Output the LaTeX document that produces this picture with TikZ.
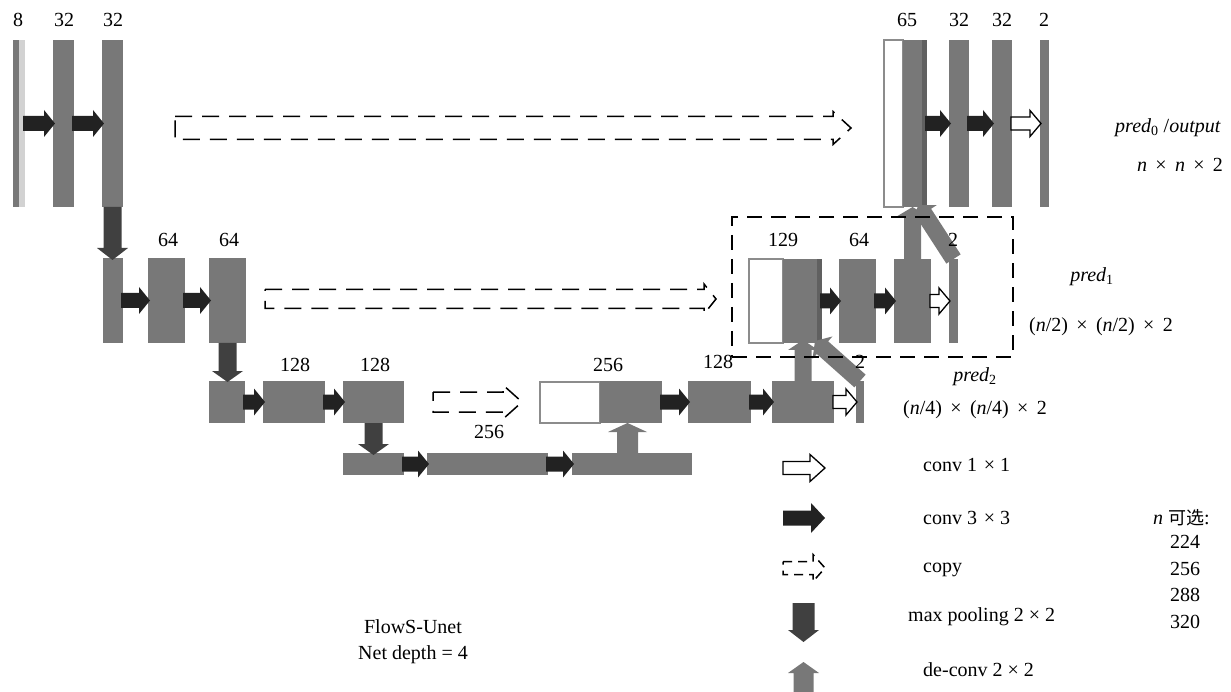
\documentclass[tikz,border=0pt]{standalone}
\usepackage{fontspec}
\setmainfont{Liberation Serif}
\newfontfamily\cjkf{Noto Sans CJK SC}
\usetikzlibrary{calc}
\definecolor{barg}{HTML}{787878}
\definecolor{lightg}{HTML}{D2D2D2}
\definecolor{stripg}{HTML}{606060}
\definecolor{convk}{HTML}{222222}
\definecolor{poolk}{HTML}{404040}
\definecolor{edgeg}{HTML}{8C8C8C}
\tikzset{
  blk/.style={rectangle, inner sep=0pt, outer sep=0pt, draw=none},
  grayblk/.style={fill=barg},
  whiteblk/.style={fill=white, draw=edgeg, line width=1.2pt},
  lightblk/.style={fill=lightg},
  stripblk/.style={fill=stripg},
  conv3/.style={fill=convk},
  conv1/.style={fill=white, draw=black, line width=1.3pt},
  copyar/.style={draw=black, line width=1.5pt, dash pattern=on 17pt off 10pt},
  copysm/.style={draw=black, line width=1.5pt, dash pattern=on 9pt off 6pt},
  pool/.style={fill=poolk},
  deconv/.style={fill=barg},
  lbl/.style={inner sep=0pt, font=\fontsize{20}{22}\selectfont},
  lgd/.style={inner sep=0pt, anchor=west, font=\fontsize{20}{22}\selectfont},
}
% block: [style]{x1}{y1}{x2}{y2}{name}
\newcommand{\UBlk}[6][grayblk]{\node[blk, #1, minimum width={(#4-#2)*1pt}, minimum height={(#5-#3)*1pt}] (#6) at ({(#2+#4)/2},{(#3+#5)/2}) {};}
% block arrow: {style}{from}{to}{body half}{head half}{head length}
\newcommand{\BArr}[6]{%
  \path[#1] let \p1=#2, \p2=#3,
    \n1={atan2((\y2)-(\y1),(\x2)-(\x1))},
    \n2={veclen((\x2)-(\x1),(\y2)-(\y1))-#6} in
    ($(\p1)+(\n1+90:#4pt)$) -- ($(\p1)+(\n1:\n2)+(\n1+90:#4pt)$)
    -- ($(\p1)+(\n1:\n2)+(\n1+90:#5pt)$) -- (\p2)
    -- ($(\p1)+(\n1:\n2)+(\n1-90:#5pt)$) -- ($(\p1)+(\n1:\n2)+(\n1-90:#4pt)$)
    -- ($(\p1)+(\n1-90:#4pt)$) -- cycle;}
\newcommand{\ConvT}[2]{\BArr{conv3}{([xshift=-2pt]#1.east)}{([xshift=2pt]#2.west)}{7.5}{13.5}{11}}
\newcommand{\ConvO}[2]{\BArr{conv1}{([xshift=-1pt]#1.east)}{([xshift=1pt]#2.west)}{6.5}{13}{11}}
\begin{document}
\begin{tikzpicture}[x=1pt,y=-1pt]
\useasboundingbox (0,0) rectangle (1231,692);
% ---------- encoder ----------
\UBlk{13}{40}{19}{207}{in0d}
\UBlk[lightblk]{19}{40}{25}{207}{in0}
\UBlk{53}{40}{74}{207}{e0a}
\UBlk{102}{40}{123}{207}{e0b}
\UBlk{103}{258}{123}{343}{e1in}
\UBlk{148}{258}{185}{343}{e1a}
\UBlk{209}{258}{246}{343}{e1b}
\UBlk{209}{381}{245}{423}{e2in}
\UBlk{263}{381}{325}{423}{e2a}
\UBlk{343}{381}{404}{423}{e2b}
\UBlk{343}{453}{404}{475}{e3in}
\UBlk{427}{453}{548}{475}{e3a}
\UBlk{572}{453}{692}{475}{e3b}
% ---------- decoder ----------
\UBlk[whiteblk]{540}{382}{600}{423}{d2w}
\UBlk{600}{381}{662}{423}{d2c}
\UBlk{688}{381}{751}{423}{d2a}
\UBlk{772}{381}{834}{423}{d2b}
\UBlk{856}{381}{864}{423}{d2o}
\UBlk[whiteblk]{749}{259}{783}{343}{d1w}
\UBlk{783}{259}{817}{343}{d1c}
\UBlk[stripblk]{817}{259}{822}{343}{d1s}
\UBlk{839}{259}{876}{343}{d1a}
\UBlk{894}{259}{931}{343}{d1b}
\UBlk{949}{259}{958}{343}{d1o}
\UBlk[whiteblk]{884}{40}{903}{207}{d0w}
\UBlk{903}{40}{922}{207}{d0c}
\UBlk[stripblk]{922}{40}{927}{207}{d0s}
\UBlk{949}{40}{969}{207}{d0a}
\UBlk{992}{40}{1012}{207}{d0b}
\UBlk{1040}{40}{1049}{207}{d0o}
% ---------- conv 3x3 ----------
\ConvT{in0}{e0a}
\ConvT{e0a}{e0b}
\ConvT{e1in}{e1a}
\ConvT{e1a}{e1b}
\ConvT{e2in}{e2a}
\ConvT{e2a}{e2b}
\ConvT{e3in}{e3a}
\ConvT{e3a}{e3b}
\ConvT{d2c}{d2a}
\ConvT{d2a}{d2b}
\ConvT{d1s}{d1a}
\ConvT{d1a}{d1b}
\ConvT{d0s}{d0a}
\ConvT{d0a}{d0b}
% ---------- conv 1x1 ----------
\ConvO{d2b}{d2o}
\ConvO{d1b}{d1o}
\ConvO{d0b}{d0o}
% ---------- max pooling ----------
\BArr{pool}{(e0b.south)}{($(e0b.south |- e1in.north)+(0,2)$)}{9}{15.5}{12}
\BArr{pool}{(e1b.south)}{($(e1b.south |- e2in.north)+(0,1)$)}{9}{15.5}{11}
\BArr{pool}{(e2b.south)}{($(e2b.south |- e3in.north)+(0,2)$)}{9}{15.5}{11}
% ---------- de-conv ----------
\BArr{deconv}{($(e3b.north)+(-4.5,0)$)}{($(e3b.north |- d2c.south)+(-4.5,0)$)}{10.5}{19.5}{9}
\BArr{deconv}{(d2b.north)}{($(d2b.north |- d1c.south)+(0,-3)$)}{8.5}{15}{10}
\BArr{deconv}{(d1b.north)}{(d1b.north |- d0c.south)}{8.5}{15}{9}
\BArr{deconv}{(d2o.north)}{($(d2b.north |- d1c.south)+(12,-2)$)}{8.5}{15}{10}
\BArr{deconv}{(d1o.north)}{($(d1b.north |- d0c.south)+(6,-2)$)}{8.5}{15}{10}
% ---------- copy ----------
\coordinate (cp0s) at (175,128); \coordinate (cp0e) at (851,128);
\coordinate (cp1s) at (265,299); \coordinate (cp1e) at (716,299);
\coordinate (cp2s) at (433,402); \coordinate (cp2e) at (522,402);
\BArr{copyar}{(cp0s)}{(cp0e)}{11.5}{16.5}{18}
\BArr{copyar}{(cp1s)}{(cp1e)}{9.5}{15}{12}
\BArr{copyar}{(cp2s)}{(cp2e)}{10}{17}{19}
% ---------- pred1 box ----------
\node[draw=black, line width=1.5pt, dash pattern=on 15pt off 9pt, inner sep=0pt,
      minimum width=281pt, minimum height=140pt] (predbox) at (872.5,287) {};
% ---------- channel labels ----------
\node[lbl] (t8) at (18,20) {8};
\node[lbl] (t32a) at (64,20) {32};
\node[lbl] (t32b) at (113,20) {32};
\node[lbl] (t64a) at (168,240) {64};
\node[lbl] (t64b) at (229,240) {64};
\node[lbl] (t128a) at (295,365) {128};
\node[lbl] (t128b) at (375,365) {128};
\node[lbl] (t256a) at (489,432) {256};
\node[lbl] (t256b) at (608,365) {256};
\node[lbl] (t128c) at (718,362) {128};
\node[lbl] (t2c) at (860,362) {2};
\node[lbl] (t129) at (783,240) {129};
\node[lbl] (t64c) at (859,240) {64};
\node[lbl] (t2b) at (953,240) {2};
\node[lbl] (t65) at (907,20) {65};
\node[lbl] (t32c) at (959,20) {32};
\node[lbl] (t32d) at (1002,20) {32};
\node[lbl] (t2a) at (1044,20) {2};
% ---------- outputs ----------
\node[lbl] (p0) at (1168,128) {\textit{pred}\textsubscript{0} /\textit{output}};
\node[lbl] (p0s) at (1180,165) {\textit{n} \,×\, \textit{n} \,×\, 2};
\node[lbl] (p1) at (1092,277) {\textit{pred}\textsubscript{1}};
\node[lbl] (p1s) at (1101,327) {(\textit{n}/2) \,×\, (\textit{n}/2) \,×\, 2};
\node[lbl] (p2) at (975,377) {\textit{pred}\textsubscript{2}};
\node[lbl] (p2s) at (975,410) {(\textit{n}/4) \,×\, (\textit{n}/4) \,×\, 2};
% ---------- legend ----------
\coordinate (lg1s) at (783,468); \coordinate (lg1e) at (825,468);
\coordinate (lg2s) at (783,518); \coordinate (lg2e) at (825,518);
\coordinate (lg3s) at (783,568); \coordinate (lg3e) at (825,568);
\coordinate (lg4s) at (803.5,603); \coordinate (lg4e) at (803.5,642);
\coordinate (lg5s) at (803.5,692); \coordinate (lg5e) at (803.5,662);
\BArr{conv1}{(lg1s)}{(lg1e)}{6.5}{13.5}{15}
\BArr{conv3}{(lg2s)}{(lg2e)}{7.5}{15}{14}
\BArr{copysm}{(lg3s)}{(lg3e)}{6.5}{13.5}{12}
\BArr{pool}{(lg4s)}{(lg4e)}{11}{15.5}{12}
\BArr{deconv}{(lg5s)}{(lg5e)}{10}{15.5}{11}
\node[lgd] (l1) at (923,465) {conv 1\,\,× 1};
\node[lgd] (l2) at (923,518) {conv 3\,\,× 3};
\node[lgd] (l3) at (923,570) {copy};
\node[lgd] (l4) at (908,617) {max pooling 2 × 2};
\node[lgd] (l5) at (923,670) {de-conv 2 × 2};
\node[lgd] (nn) at (1153,518) {\textit{n} {\cjkf\fontsize{18}{20}\selectfont 可选}:};
\node[lbl] (n1) at (1185,542) {224};
\node[lbl] (n2) at (1185,569) {256};
\node[lbl] (n3) at (1185,595) {288};
\node[lbl] (n4) at (1185,622) {320};
\node[lbl] (fs1) at (413,627) {FlowS-Unet};
\node[lbl] (fs2) at (413,655) {Net depth = 4};
\end{tikzpicture}
\end{document}
